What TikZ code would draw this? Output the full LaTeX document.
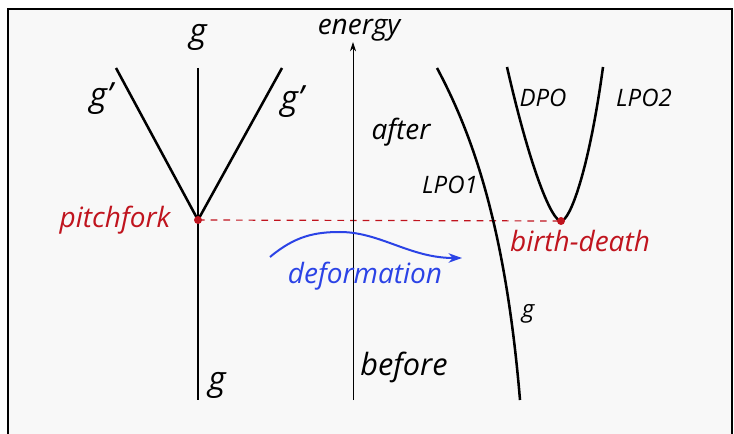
\documentclass[tikz,border=0pt]{standalone}
\usepackage{fontspec}
\setmainfont{Open Sans}
\usepackage{tikz}
\usetikzlibrary{arrows.meta}

\definecolor{pfred}{HTML}{C0141E}
\definecolor{defblue}{HTML}{2B43E6}
\definecolor{paper}{HTML}{F8F8F8}

\begin{document}
\begin{tikzpicture}[x=0.75pt, y=-0.75pt,
    every node/.style={font=\itshape\fontsize{21}{21}\selectfont, inner sep=0pt},
    branch/.style={line width=1.9pt},
    lbl/.style={font=\itshape\fontsize{18}{18}\selectfont},
    glbl/.style={font=\itshape\fontsize{25}{25}\selectfont}]

% --- canvas ---
\useasboundingbox (0,0) rectangle (734,434);
\clip (0,0) rectangle (734,434);
\fill[white] (0,0) rectangle (734,434);
\draw[fill=paper, line width=1.5pt] (8,9) rectangle (732,470);

% --- Left: pitchfork ---
\coordinate (pf) at (198,220);
\coordinate (ptop) at (198,68);
\coordinate (pbot) at (198,400);
\coordinate (pleft) at (116,68);
\coordinate (pright) at (282,68);

% --- Right: LPO branches ---
\coordinate (l1top) at (437,68);
\coordinate (l1bot) at (520,400);
\coordinate (dpotop) at (507,67);
\coordinate (bd) at (561,221);
\coordinate (lpo2top) at (603,67);

% dashed level line
\draw[pfred, line width=0.9pt, dash pattern=on 5pt off 4.5pt] (pf) -- (bd);

\draw[branch] (ptop) -- (pbot);
\draw[branch] (pleft) -- (pf) -- (pright);
\draw[branch] (l1top) .. controls (470,130) and (505,220) .. (l1bot);
\draw[branch] (dpotop) .. controls (531,172) and (552,221) .. (bd) .. controls (570,221) and (589,170) .. (lpo2top);

% bifurcation points
\fill[pfred] (pf) circle (3pt);
\fill[pfred] (bd) circle (3pt);

\node[glbl, anchor=base] (gtop) at (198,43) {g};
\node[glbl, anchor=base] (gleft) at (101,107) {g'};
\node[glbl, anchor=base] (gright) at (292,110) {g'};
\node[glbl, anchor=base] (gbot) at (217,390) {g};
\node[anchor=base, text=pfred] (pitch) at (115,228) {pitchfork};

% --- Middle: energy axis ---
\coordinate (ebot) at (353,400);
\coordinate (etop) at (353,42);
\draw[line width=0.6pt, -{Stealth[length=7pt, width=4.5pt]}] (ebot) -- (etop);
\node[anchor=base] (energy) at (359,35) {energy};
\node[anchor=base] (after) at (401,140) {after};
\node[anchor=base, font=\itshape\fontsize{23}{23}\selectfont] (before) at (404,375) {before};

% deformation arrow
\coordinate (dstart) at (270,257);
\coordinate (dtop) at (340,232);
\coordinate (dend) at (462,258);
\draw[defblue, line width=1.5pt, -{Stealth[length=10pt, width=7pt, inset=3pt]}]
    (dstart) .. controls (295,236) and (315,232) .. (dtop)
    .. controls (380,232) and (410,258) .. (dend);
\node[anchor=base, text=defblue] (deform) at (365,283) {deformation};

\node[anchor=base, text=pfred] (bdlbl) at (580,252) {birth-death};
\node[lbl, anchor=base] (lpo1) at (450,194) {LPO1};
\node[lbl, anchor=base] (dpo) at (543,107) {DPO};
\node[lbl, anchor=base] (lpo2) at (644,107) {LPO2};
\node[lbl, anchor=base] (gsmall) at (528,317) {g};

\end{tikzpicture}
\end{document}
